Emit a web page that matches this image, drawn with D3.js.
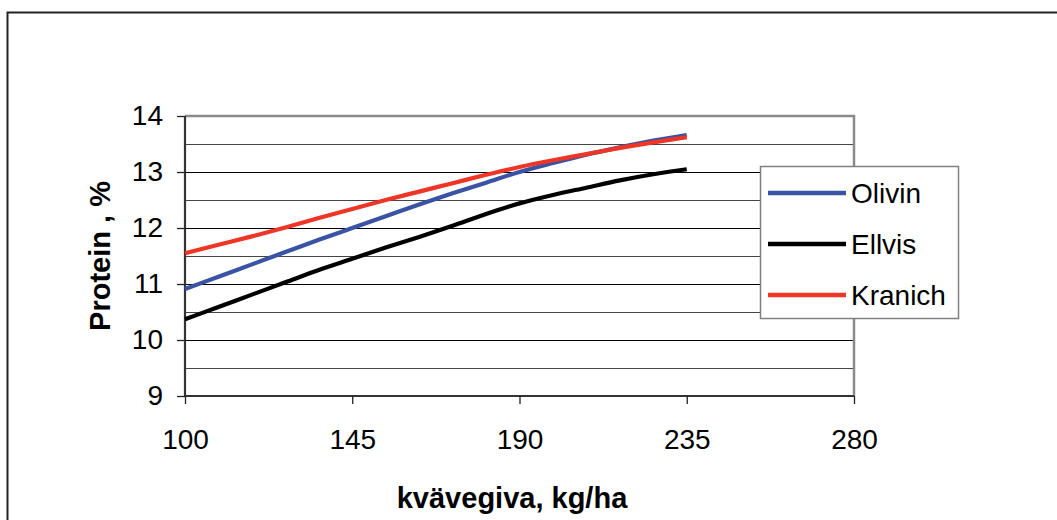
<!DOCTYPE html>
<html><head><meta charset="utf-8">
<script src="https://cdn.jsdelivr.net/npm/d3@7"></script>
<style>body{margin:0;background:#fff}svg{display:block}</style>
</head><body>
<svg id="c" width="1057" height="520"></svg>
<script>
const xValues = [100,109,118,127,136,145,154,163,172,181,190,199,208,217,226,235];
const olivin  = [10.91,11.13,11.35,11.57,11.79,12.00,12.21,12.42,12.62,12.81,13.00,13.16,13.31,13.44,13.56,13.66];
const ellvis  = [10.37,10.59,10.81,11.03,11.25,11.45,11.65,11.84,12.04,12.25,12.44,12.59,12.72,12.85,12.96,13.05];
const kranich = [11.55,11.70,11.85,12.01,12.18,12.34,12.50,12.65,12.80,12.95,13.09,13.21,13.32,13.43,13.53,13.62];
const seriesNames = ["Olivin","Ellvis","Kranich"];
const seriesColors = ["#3A53A4","#000000","#EE3526"];
const xTicks = [100,145,190,235,280];
const yTicks = [9,10,11,12,13,14];
const yGrid = [9.5,10,10.5,11,11.5,12,12.5,13,13.5];

const svg = d3.select("#c");
const font = "Liberation Sans, Arial, sans-serif";
// outer frame
svg.append("path").attr("d","M7.5,530 V12.5 H1060").attr("fill","none").attr("stroke","#222").attr("stroke-width",2);

const L=185,R=854,T=116,B=396;
const x = d3.scaleLinear().domain([100,280]).range([L,R]);
const y = d3.scaleLinear().domain([9,14]).range([B,T]);

// grid
svg.append("g").selectAll("line").data(yGrid).join("line")
  .attr("x1",L).attr("x2",R).attr("y1",d=>Math.round(y(d))+0.5).attr("y2",d=>Math.round(y(d))+0.5)
  .attr("stroke",d=>Number.isInteger(d)?"#000":"#444").attr("stroke-width",1.2);
// top & right border
svg.append("path").attr("d",`M${L},${T} H${R} V${B}`).attr("fill","none").attr("stroke","#8a8a8a").attr("stroke-width",2.5);

// axes
const xAxis = svg.append("g").attr("transform",`translate(0,${B})`)
  .call(d3.axisBottom(x).tickValues(xTicks).tickFormat(d3.format("d")).tickSize(8).tickPadding(25));
const yAxis = svg.append("g").attr("transform",`translate(${L},0)`)
  .call(d3.axisLeft(y).tickValues(yTicks).tickFormat(d3.format("d")).tickSize(8).tickPadding(14));
[xAxis,yAxis].forEach(a=>{
  a.select(".domain").attr("stroke","#333").attr("stroke-width",2.2);
  a.selectAll(".tick line").attr("stroke","#222").attr("stroke-width",1.3);
  a.selectAll("text").attr("font-family",font).attr("font-size",28).attr("fill","#000");
});
xAxis.select(".domain").attr("d",`M${L},0H${R}`);
yAxis.select(".domain").attr("d",`M0,${B}V${T}`);

// lines
const data = [olivin, ellvis, kranich];
const line = d3.line().x((d,i)=>x(xValues[i])).y(d=>y(d)).curve(d3.curveMonotoneX);
[1,0,2].forEach(k=>{
  svg.append("path").datum(data[k]).attr("d",line).attr("fill","none")
    .attr("stroke",seriesColors[k]).attr("stroke-width",4.2).attr("stroke-linejoin","round");
});

// legend
const lg = svg.append("g");
lg.append("rect").attr("x",760.5).attr("y",166.5).attr("width",198).attr("height",152)
  .attr("fill","#fff").attr("stroke","#808080").attr("stroke-width",1.5);
const ly = [193,244,295];
seriesNames.forEach((n,i)=>{
  lg.append("line").attr("x1",768).attr("x2",846).attr("y1",ly[i]).attr("y2",ly[i])
    .attr("stroke",seriesColors[i]).attr("stroke-width",4.5);
  lg.append("text").attr("x",851).attr("y",ly[i]+10).attr("font-family",font).attr("font-size",28).text(n);
});

// axis titles
svg.append("text").attr("x",512).attr("y",508).attr("text-anchor","middle")
  .attr("font-family",font).attr("font-weight","bold").attr("font-size",29).text("kvävegiva, kg/ha");
svg.append("text").attr("transform",`translate(110,${(T+B)/2}) rotate(-90)`).attr("text-anchor","middle")
  .attr("font-family",font).attr("font-weight","bold").attr("font-size",29).text("Protein , %");
</script>
</body></html>
